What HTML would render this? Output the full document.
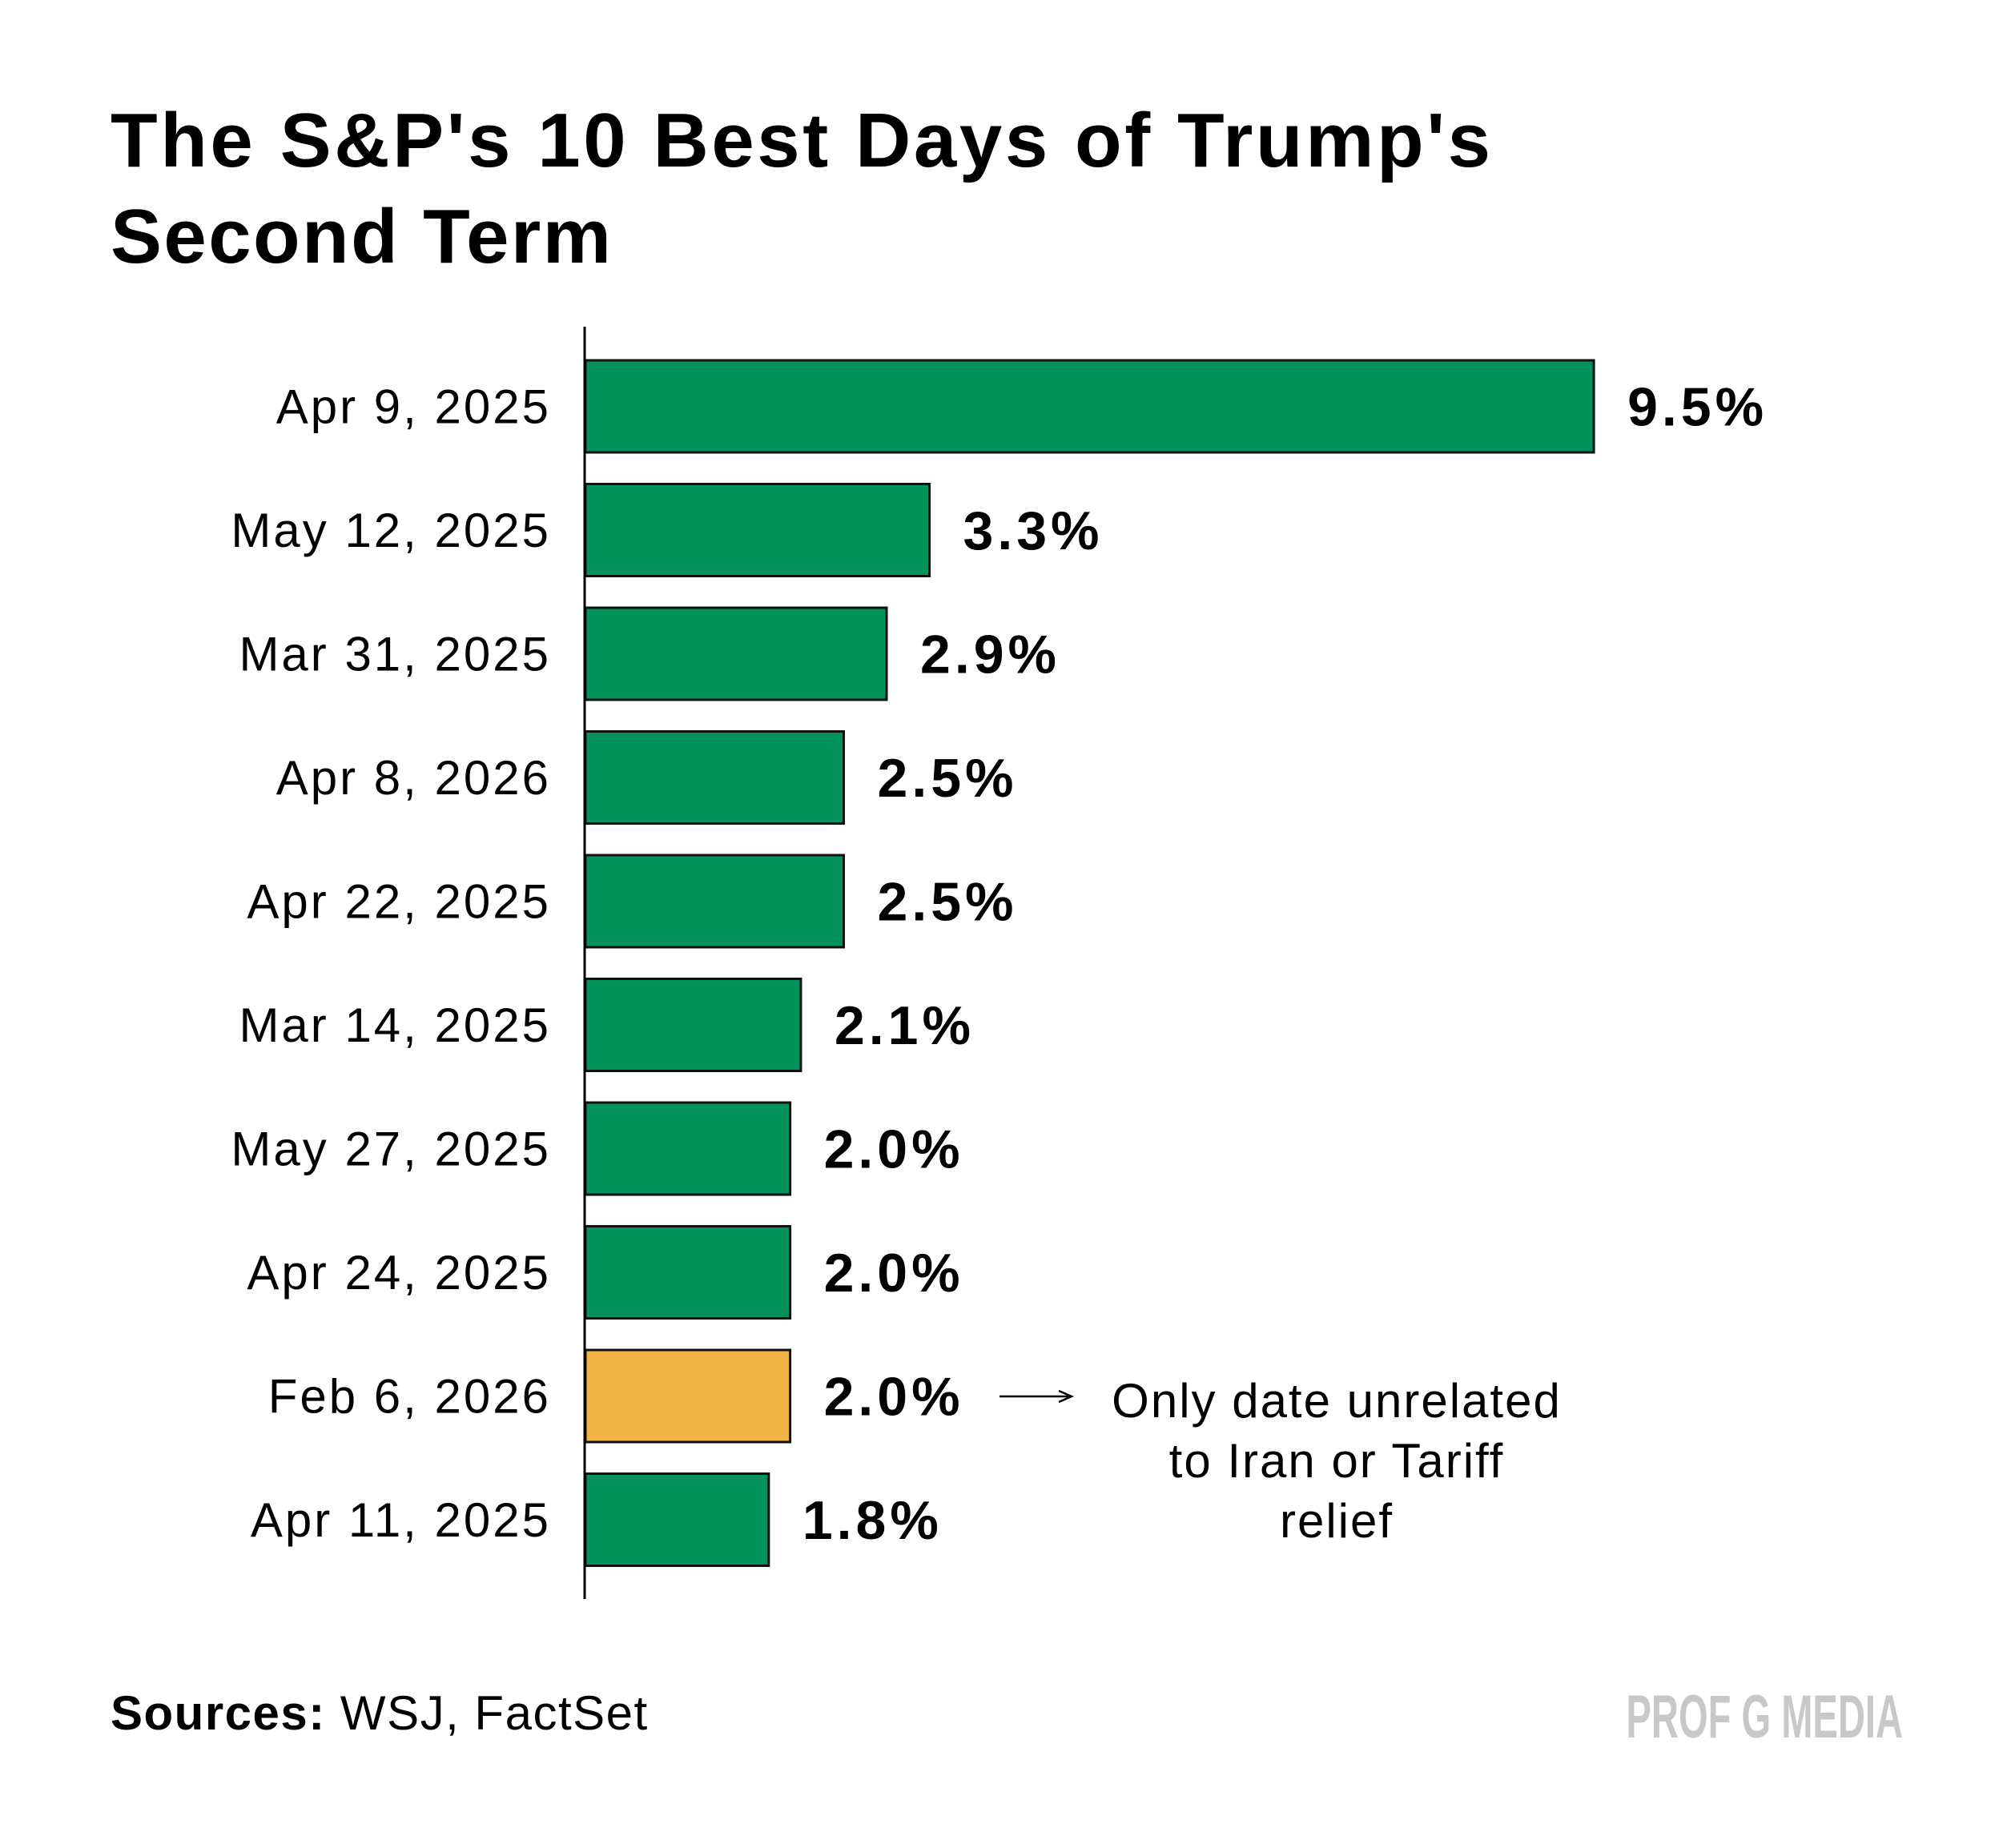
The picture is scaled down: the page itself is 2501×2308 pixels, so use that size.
<!DOCTYPE html>
<html><head><meta charset="utf-8"><style>
body{margin:0;background:#fff;}
svg text{font-family:"Liberation Sans",sans-serif;}
</style></head><body>
<svg width="2501" height="2303" viewBox="0 0 2501 2303" xmlns="http://www.w3.org/2000/svg">
<rect width="2501" height="2303" fill="#fff"/>
<text x="138" y="208" font-size="96" font-weight="bold" textLength="1723" lengthAdjust="spacing">The S&amp;P's 10 Best Days of Trump's</text>
<text x="138" y="328" font-size="96" font-weight="bold" textLength="625" lengthAdjust="spacing">Second Term</text>
<g id="bars"></g>
<line x1="730" y1="408" x2="730" y2="1997" stroke="#000" stroke-width="3"/>
<line x1="1248" y1="1744" x2="1334" y2="1744" stroke="#000" stroke-width="2.5"/>
<path d="M1322,1737 L1338,1744 L1322,1751" fill="none" stroke="#000" stroke-width="2.5"/>
<text x="1669" y="1770" font-size="60" letter-spacing="2" text-anchor="middle">Only date unrelated</text>
<text x="1669" y="1845" font-size="60" letter-spacing="2" text-anchor="middle">to Iran or Tariff</text>
<text x="1669" y="1920" font-size="60" letter-spacing="2" text-anchor="middle">relief</text>
<text x="138" y="2160" font-size="60" letter-spacing="1.5"><tspan font-weight="bold">Sources:</tspan> WSJ, FactSet</text>
<text x="2376" y="2170" font-size="76" font-weight="bold" fill="#c8c8c8" text-anchor="end" transform="translate(2376,0) scale(0.62,1) translate(-2376,0)">PROF G MEDIA</text>
</svg>
<script>
const categories=["Apr 9, 2025","May 12, 2025","Mar 31, 2025","Apr 8, 2026","Apr 22, 2025","Mar 14, 2025","May 27, 2025","Apr 24, 2025","Feb 6, 2026","Apr 11, 2025"];
const values=[9.5,3.3,2.9,2.5,2.5,2.1,2.0,2.0,2.0,1.8];
const valueLabels=["9.5%","3.3%","2.9%","2.5%","2.5%","2.1%","2.0%","2.0%","2.0%","1.8%"];
const highlighted=["Feb 6, 2026"];
const NS="http://www.w3.org/2000/svg";
const g=document.getElementById('bars');
function xScale(v){return 719+v*133.8;}
function yScale(i){return 450+i*154.5;}
const bh=115;
categories.forEach((c,i)=>{
  const y=yScale(i);
  const r=document.createElementNS(NS,'rect');
  r.setAttribute('x',731);r.setAttribute('y',y);
  r.setAttribute('width',xScale(values[i])-731);r.setAttribute('height',bh);
  r.setAttribute('fill',highlighted.includes(c)?'#f2b447':'#03915c');
  r.setAttribute('stroke','#111');r.setAttribute('stroke-width','3');
  
  
  g.appendChild(r);
  const t=document.createElementNS(NS,'text');
  t.setAttribute('x',688);t.setAttribute('y',y+bh/2+21);
  t.setAttribute('font-size','60');t.setAttribute('text-anchor','end');
  t.setAttribute('letter-spacing','3');
  t.textContent=c;
  
  
  g.appendChild(t);
  const v=document.createElementNS(NS,'text');
  v.setAttribute('x',xScale(values[i])+42);v.setAttribute('y',y+bh/2+24);
  v.setAttribute('font-size','68');v.setAttribute('font-weight','bold');
  v.setAttribute('letter-spacing','5');
  v.textContent=valueLabels[i];
  
  
  g.appendChild(v);
});
</script>
</body></html>
